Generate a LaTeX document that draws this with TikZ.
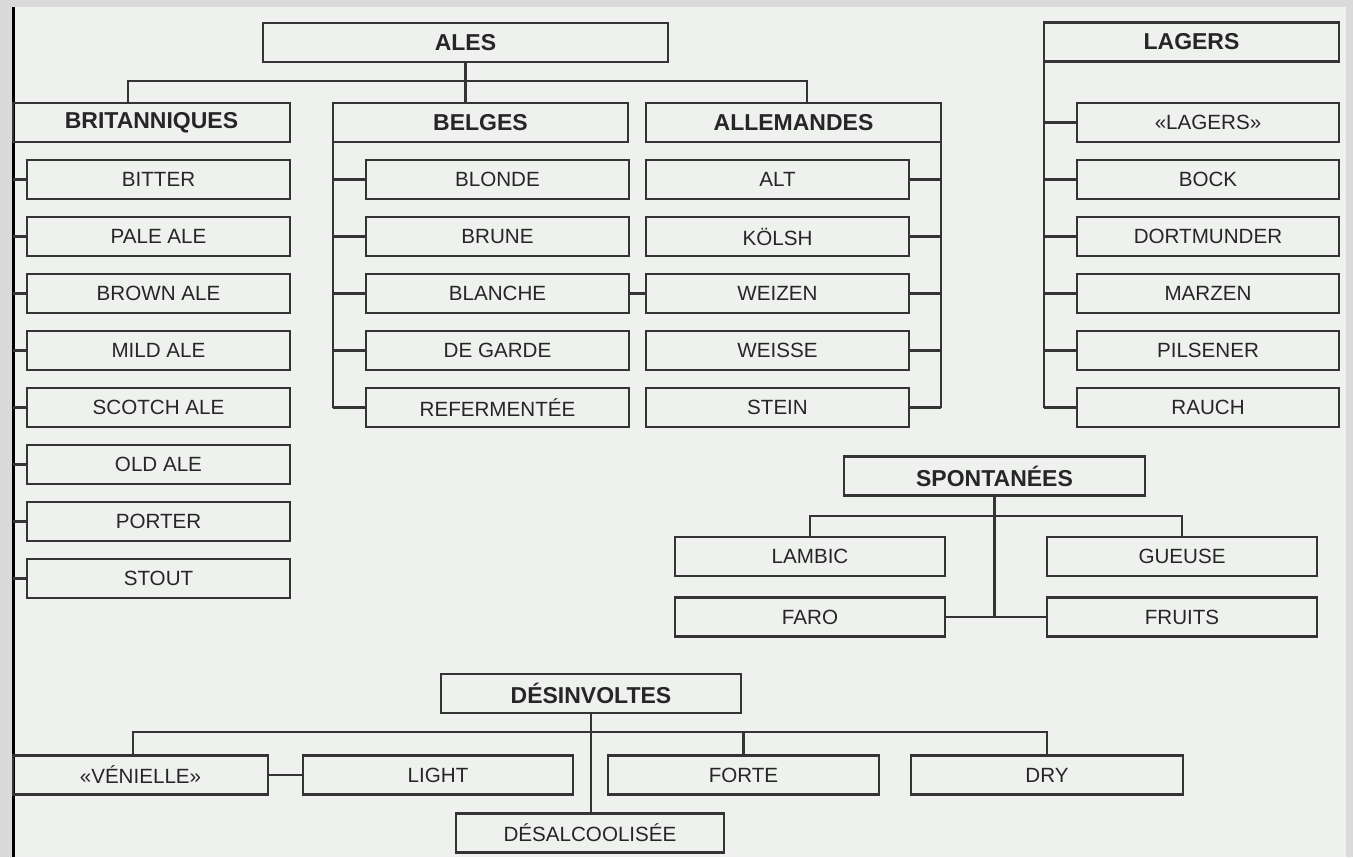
\documentclass[tikz,border=0pt]{standalone}
\usepackage{fontspec}
\setmainfont{Liberation Sans}
\usepackage{tikz}
\usetikzlibrary{calc,positioning}
\definecolor{scanPaper}{RGB}{238,241,238}
\definecolor{scanEdge}{RGB}{218,218,218}
\definecolor{inkGray}{RGB}{52,52,52}
\definecolor{inkText}{RGB}{38,38,38}

\begin{document}
\begin{tikzpicture}[x=0.5pt,y=-0.5pt,
  box/.style={draw=inkGray, line width=1.1pt, inner sep=0pt, outer sep=0pt,
    minimum height=19.5pt, text=inkText, font=\fontsize{10.3}{12}\selectfont},
  head/.style={box, font=\fontsize{11.5}{13}\selectfont\bfseries},
  link/.style={inkGray, line width=1.1pt}]
\useasboundingbox (0,0) rectangle (1353,857);
\fill[scanEdge] (0,0) rectangle (1353,857);
\fill[scanPaper] (12,7) rectangle (1346,857);
\draw[black, line width=1.5pt] (13,7) -- (13,857);

% ales
\node[head, minimum width=202.5pt] (ales) at (465.5,42.5) {ALES};
\node[head, minimum width=138.5pt] (brit) at (151.5,122.5) {BRITANNIQUES};
\node[head, minimum width=147.5pt] (belg) at (480.5,122.5) {BELGES};
\node[head, minimum width=147.5pt] (alle) at (793.5,122.5) {ALLEMANDES};
\coordinate (busL) at (128,81);
\coordinate (busR) at (807,81);
\draw[link] (ales.south) -- (ales.south |- belg.north);
\draw[link] (busL |- brit.north) -- (busL) -- (busR) -- (busR |- alle.north);

\foreach \n/\t [count=\i from 0] in {bitter/BITTER, pale/PALE ALE, brown/BROWN ALE,
    mild/MILD ALE, scotch/SCOTCH ALE, old/OLD ALE, porter/PORTER, stout/STOUT}{
  \node[box, minimum width=131.5pt] (\n) at (158.5,{179.5+57*\i}) {\t};
  \draw[link] (\n.west) -- (\n.west -| brit.west);
}
\foreach \n/\t [count=\i from 0] in {blonde/BLONDE, brune/BRUNE, blanche/BLANCHE,
    garde/DE GARDE, referm/REFERMENTÉE}{
  \node[box, minimum width=131.5pt] (\n) at (497.5,{179.5+57*\i}) {\t};
  \draw[link] (\n.west) -- (\n.west -| belg.west);
}
\draw[link] (belg.south west) -- (belg.west |- referm.west);
\foreach \n/\t [count=\i from 0] in {alt/ALT, kolsh/KÖLSH, weizen/WEIZEN,
    weisse/WEISSE, stein/STEIN}{
  \node[box, minimum width=131.5pt] (\n) at (777.5,{179.5+57*\i}) {\t};
  \draw[link] (\n.east) -- (\n.east -| alle.east);
}
\draw[link] (alle.south east) -- (alle.east |- stein.east);
\draw[link] (blanche.east) -- (weizen.west);

% lagers
\node[head, minimum width=147.5pt] (lag) at (1191.5,42) {LAGERS};
\foreach \n/\t [count=\i from 0] in {lagq/«LAGERS», bock/BOCK, dortm/DORTMUNDER,
    marzen/MARZEN, pils/PILSENER, rauch/RAUCH}{
  \node[box, minimum width=131pt] (\n) at (1208,{122.5+57*\i}) {\t};
  \draw[link] (\n.west) -- (\n.west -| lag.west);
}
\draw[link] (lag.south west) -- (lag.west |- rauch.west);

% spontanees
\node[head, minimum width=150.5pt] (spon) at (994.5,476) {SPONTANÉES};
\node[box, minimum width=135pt] (lambic) at (810,556.5) {LAMBIC};
\node[box, minimum width=135pt] (gueuse) at (1182,556.5) {GUEUSE};
\node[box, minimum width=135pt] (faro) at (810,617) {FARO};
\node[box, minimum width=135pt] (fruits) at (1182,617) {FRUITS};
\coordinate (sbus) at (994.5,516);
\draw[link] (lambic.north) |- (sbus) -| (gueuse.north);
\draw[link] (spon.south) -- (spon.south |- faro.east);
\draw[link] (faro.east) -- (fruits.west);

% desinvoltes
\node[head, minimum width=150pt] (desi) at (591,693.5) {DÉSINVOLTES};
\node[box, minimum width=127.5pt] (ven) at (140.5,775) {«VÉNIELLE»};
\node[box, minimum width=135pt] (light) at (438,775) {LIGHT};
\node[box, minimum width=135.5pt] (forte) at (743.5,775) {FORTE};
\node[box, minimum width=136pt] (dry) at (1047,775) {DRY};
\node[box, minimum width=134pt] (desal) at (590,833) {DÉSALCOOLISÉE};
\coordinate (dbus) at (133,732);
\draw[link] (dbus |- ven.north) -- (dbus) -| (dry.north);
\draw[link] (forte.north) -- (forte.north |- dbus);
\draw[link] (desi.south) -- (desi.south |- desal.north);
\draw[link] (ven.east) -- (light.west);
\end{tikzpicture}
\end{document}
